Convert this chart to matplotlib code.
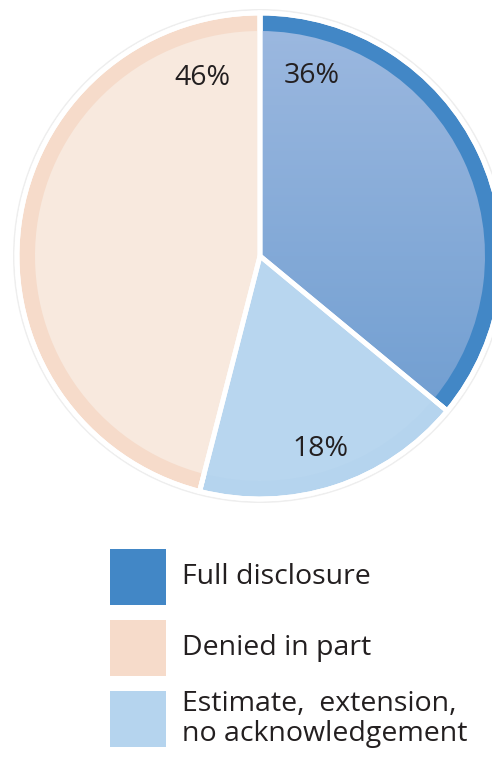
import numpy as np
import matplotlib.pyplot as plt
from matplotlib.patches import Circle, Rectangle
from matplotlib.colors import LinearSegmentedColormap

plt.rcParams['font.family'] = ['Open Sans', 'DejaVu Sans']

labels = ['Full disclosure', 'Estimate,  extension,\nno acknowledgement', 'Denied in part']
shares = [36, 18, 46]
rim_colors = ['#4287c6', '#b5d4ee', '#f6dbca']
fill_colors = ['#86a9d9', '#b8d6ef', '#f8e9de']
legend_order = [0, 2, 1]

W, H = 492, 757
fig = plt.figure(figsize=(W / 100, H / 100), dpi=100)
ax = fig.add_axes([0, 0, 1, 1])

cx, cy, r = 260, H - 256, 243
rim = 18

# soft grey halo round the pie
ax.add_patch(Circle((cx, cy), r + 4, facecolor='#eeeeee', edgecolor='none', zorder=0))

outer, _ = ax.pie(shares, startangle=90, counterclock=False, colors=rim_colors,
                  center=(cx, cy), radius=r, frame=True,
                  wedgeprops=dict(edgecolor='white', linewidth=3.5))
inner, _ = ax.pie(shares, startangle=90, counterclock=False, colors=fill_colors,
                  center=(cx, cy), radius=r - rim, frame=True,
                  wedgeprops=dict(edgecolor='none', linewidth=0))

# vertical gradient inside the full disclosure wedge
grad = LinearSegmentedColormap.from_list('fd', ['#6899ce', '#9db9e0'])
inner[0].set_facecolor('none')
img = ax.imshow(np.linspace(0, 1, 256).reshape(-1, 1), cmap=grad, origin='lower',
                extent=(cx, cx + r, cy - r, cy + r), aspect='auto', zorder=1.5)
img.set_clip_path(inner[0])

# separators on top
sep, _ = ax.pie(shares, startangle=90, counterclock=False, colors=['none'] * 3,
                center=(cx, cy), radius=r, frame=True,
                wedgeprops=dict(edgecolor='white', linewidth=3.5, fill=False))
for w in sep:
    w.set_zorder(3)

ax.set_xlim(0, W)
ax.set_ylim(0, H)
ax.axis('off')

label_pos = [(312, 76), (320, 449), (202, 78)]
for v, (x, y) in zip(shares, label_pos):
    ax.text(x, H - y, f'{v}%', fontsize=20.5, color='#231f20', ha='center', va='center', zorder=4)

# legend
box_top = [549, 620, 691]
for i, top in zip(legend_order, box_top):
    ax.add_patch(Rectangle((110, H - top - 56), 56, 56, facecolor=rim_colors[i],
                           edgecolor='none'))
    ax.text(182, H - top - 28, labels[i], fontsize=20.5, color='#231f20',
            ha='left', va='center', linespacing=1.12)

fig.savefig('out.png', dpi=100)
